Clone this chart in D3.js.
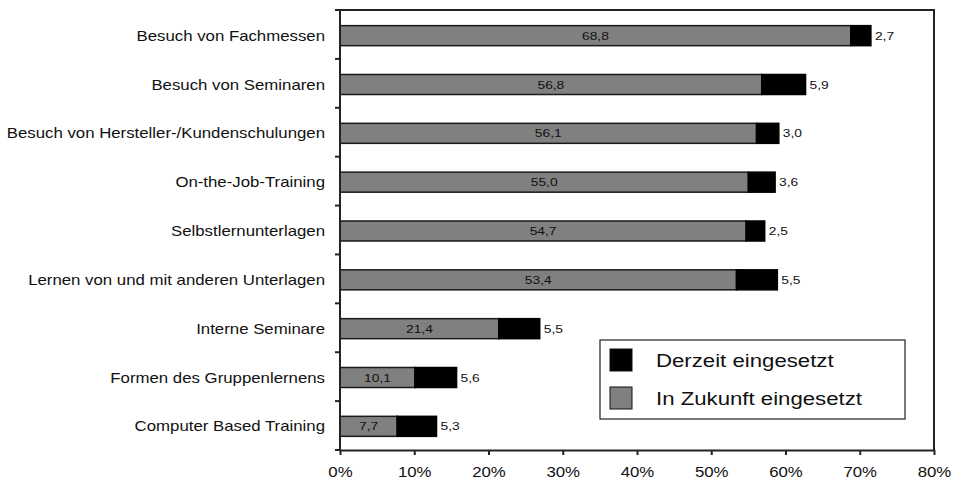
<!DOCTYPE html>
<html>
<head>
<meta charset="utf-8">
<script src="https://cdn.jsdelivr.net/npm/d3@7"></script>
<style>
  body { margin: 0; background: #fff; }
  text { font-family: "Liberation Sans", Arial, sans-serif; fill: #111; }
</style>
</head>
<body>
<div id="chart"></div>
<script>
// Weiterbildungsformen
const categories = [
  'Besuch von Fachmessen',
  'Besuch von Seminaren',
  'Besuch von Hersteller-/Kundenschulungen',
  'On-the-Job-Training',
  'Selbstlernunterlagen',
  'Lernen von und mit anderen Unterlagen',
  'Interne Seminare',
  'Formen des Gruppenlernens',
  'Computer Based Training'
];
const zukunft = [68.8, 56.8, 56.1, 55.0, 54.7, 53.4, 21.4, 10.1, 7.7];
const derzeit = [2.7, 5.9, 3.0, 3.6, 2.5, 5.5, 5.5, 5.6, 5.3];
const xTicks = [0, 10, 20, 30, 40, 50, 60, 70, 80];
const legendItems = ['Derzeit eingesetzt', 'In Zukunft eingesetzt'];

const width = 963, height = 479;
const margin = { top: 10, right: 29, bottom: 29, left: 340 };
const sx = 1.2; // the original text is a bit stretched horizontally

const svg = d3.select('#chart').append('svg')
  .attr('width', width)
  .attr('height', height);

const x = d3.scaleLinear()
  .domain([0, 80])
  .range([margin.left, width - margin.right]);

const y = d3.scaleBand()
  .domain(categories)
  .range([margin.top + 1, height - margin.bottom + 1])
  .paddingInner(0.59)
  .paddingOuter(0.3);

const fmt = v => d3.format('.1f')(v).replace('.', ',');
const place = (px, py) => `translate(${px},${py}) scale(${sx},1)`;

// frame (top + right)
svg.append('path')
  .attr('d', `M${x(0)},${margin.top}H${x(80)}V${height - margin.bottom}`)
  .attr('fill', 'none')
  .attr('stroke', '#222')
  .attr('stroke-width', 2);

const rows = categories.map((c, i) => ({ cat: c, z: zukunft[i], d: derzeit[i] }));

const bars = svg.append('g').attr('class', 'bars');

// gray segment
bars.selectAll('rect.zuk')
  .data(rows)
  .enter().append('rect')
  .attr('class', 'zuk')
  .attr('x', x(0))
  .attr('y', d => y(d.cat))
  .attr('width', d => x(d.z) - x(0))
  .attr('height', y.bandwidth())
  .attr('fill', '#808080')
  .attr('stroke', '#1a1a1a')
  .attr('stroke-width', 1.5);

// black segment
bars.selectAll('rect.der')
  .data(rows)
  .enter().append('rect')
  .attr('class', 'der')
  .attr('x', d => x(d.z))
  .attr('y', d => y(d.cat))
  .attr('width', d => x(d.z + d.d) - x(d.z))
  .attr('height', y.bandwidth())
  .attr('fill', '#000')
  .attr('stroke', '#000')
  .attr('stroke-width', 1.5);

bars.selectAll('text.zl')
  .data(rows)
  .enter().append('text')
  .attr('class', 'zl')
  .attr('transform', d => place((x(0) + x(d.z)) / 2, y(d.cat) + y.bandwidth() / 2))
  .attr('dy', '0.36em')
  .attr('text-anchor', 'middle')
  .attr('font-size', 11.5)
  .text(d => fmt(d.z));

bars.selectAll('text.dl')
  .data(rows)
  .enter().append('text')
  .attr('class', 'dl')
  .attr('transform', d => place(x(d.z + d.d) + 4, y(d.cat) + y.bandwidth() / 2))
  .attr('dy', '0.36em')
  .attr('font-size', 11.5)
  .text(d => fmt(d.d));

// x axis
const xAxis = svg.append('g')
  .attr('transform', `translate(0,${height - margin.bottom})`)
  .call(d3.axisBottom(x).tickValues(xTicks).tickSize(5).tickSizeOuter(0).tickFormat(d => d + '%'));
xAxis.select('.domain').attr('stroke', '#222').attr('stroke-width', 2);
xAxis.selectAll('.tick line').attr('stroke', '#222').attr('stroke-width', 2);
xAxis.selectAll('.tick text')
  .attr('font-size', 14)
  .attr('y', 27).attr('dy', 0)
  .attr('transform', `scale(${sx},1)`)
  .attr('font-family', '"Liberation Sans", Arial, sans-serif').attr('fill', '#111');

// y axis: line, separator ticks, labels
const yAxis = svg.append('g');
yAxis.append('line')
  .attr('x1', x(0)).attr('x2', x(0))
  .attr('y1', margin.top).attr('y2', height - margin.bottom)
  .attr('stroke', '#222').attr('stroke-width', 2);

const bounds = d3.range(categories.length + 1)
  .map(i => margin.top + i * (height - margin.top - margin.bottom) / categories.length);
yAxis.selectAll('line.sep')
  .data(bounds)
  .enter().append('line')
  .attr('class', 'sep')
  .attr('x1', x(0) - 5).attr('x2', x(0))
  .attr('y1', d => d).attr('y2', d => d)
  .attr('stroke', '#222').attr('stroke-width', 2);

yAxis.selectAll('text')
  .data(categories)
  .enter().append('text')
  .attr('transform', d => place(x(0) - 15, y(d) + y.bandwidth() / 2))
  .attr('dy', '0.36em')
  .attr('text-anchor', 'end')
  .attr('font-size', 14)
  .text(d => d);

// legend
const legend = svg.append('g').attr('transform', 'translate(600,340)');
legend.append('rect')
  .attr('width', 305).attr('height', 79)
  .attr('fill', '#fff').attr('stroke', '#222').attr('stroke-width', 1.2);
const lg = legend.selectAll('g.item')
  .data(legendItems)
  .enter().append('g')
  .attr('class', 'item')
  .attr('transform', (d, i) => `translate(10,${9 + i * 38})`);
lg.append('rect')
  .attr('width', 22).attr('height', 22)
  .attr('fill', (d, i) => i === 0 ? '#000' : '#808080')
  .attr('stroke', '#111').attr('stroke-width', 1);
lg.append('text')
  .attr('transform', place(46, 11))
  .attr('dy', '0.36em')
  .attr('font-size', 18.5)
  .text(d => d);
</script>
</body>
</html>
